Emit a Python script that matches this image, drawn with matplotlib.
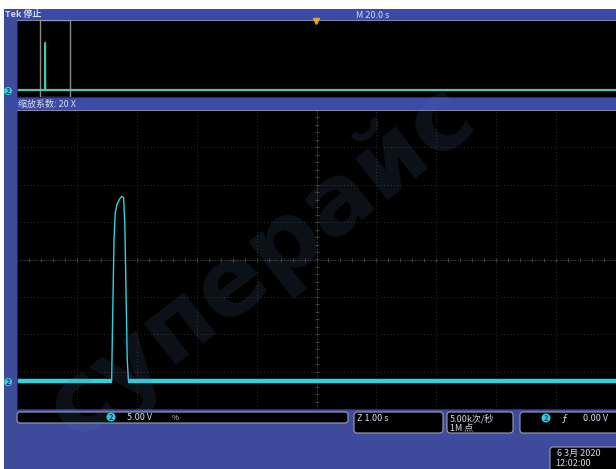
import numpy as np
import matplotlib
matplotlib.use('Agg')
import matplotlib.pyplot as plt
from matplotlib.patches import Rectangle, FancyBboxPatch, Circle

plt.rcParams['font.family'] = ['Noto Sans CJK SC', 'DejaVu Sans']

# ---- data ----
sec_per_div = 1.0          # zoom timebase (Z 1.00 s)
main_sec_per_div = 20.0    # main timebase (M 20.0 s)
volt_per_div = 5.0         # CH2 5.00 V/div
ch2_position = -3.25       # divisions
zoom_center = -87.3        # s, centre of zoom window in main record
zoom_factor = 20

t_pulse = [-5.0, -3.42, -3.40, -3.38, -3.36, -3.33, -3.29, -3.25, -3.22, -3.20, -3.18, -3.16, -3.14, 5.0]
v_pulse = [0.0, 0.0, 10.0, 19.0, 22.5, 23.6, 24.3, 24.7, 24.5, 21.0, 12.0, 3.0, 0.0, 0.0]

header_left = 'Tek 停止'
header_mid = 'M 20.0 s'
zoom_label = '缩放系数: 20 X'
ch_scale = '5.00 V'
zoom_base = 'Z 1.00 s'
rate_lines = ['5.00k次/秒', '1M 点']
trig_level = '0.00 V'
date_lines = ['6 3月 2020', '12:02:00']

W, H = 616, 469
BLUE = '#3e4a9c'
BAR = '#3a4aa6'
TXT = '#d6d8ea'
CYAN = '#2fd2dc'
GRID = '#3c3c3c'

fig = plt.figure(figsize=(W / 100, H / 100), dpi=100)
fig.patch.set_facecolor('white')


def box(x0, y0, x1, y1):
    return [x0 / W, 1 - y1 / H, (x1 - x0) / W, (y1 - y0) / H]


# background frame
bg = fig.add_axes([0, 0, 1, 1], zorder=0)
bg.set_xlim(0, W)
bg.set_ylim(H, 0)
bg.axis('off')
bg.add_patch(Rectangle((4, 9), W - 4, H - 9, facecolor=BLUE, edgecolor='none'))
bg.add_patch(Rectangle((4, 9), W - 4, 11, facecolor=BAR, edgecolor='none'))
bg.add_patch(Rectangle((4, 97), W - 4, 13, facecolor=BAR, edgecolor='none'))

t = np.array(t_pulse)
v = np.array(v_pulse)
div = v / volt_per_div + ch2_position
flat = v == 0


def scope_axes(ax):
    ax.set_facecolor('black')
    for s in ax.spines.values():
        s.set_color('#2a2a3a')
        s.set_linewidth(0.6)
    ax.spines['top'].set_color('#9aa0c0')
    ax.set_xticks([])
    ax.set_yticks([])


# overview window
ov = fig.add_axes(box(17, 20, W, 97), zorder=1)
scope_axes(ov)
ov.set_xlim(-5 * main_sec_per_div, 5 * main_sec_per_div)
ov.set_ylim(-4, 4)
ov.plot(t + zoom_center, div, color='#48c8b4', lw=1.0)
ov.axhline(ch2_position, color='#48c8b4', lw=1.6)
zw = 10 * sec_per_div
ov.add_patch(Rectangle((zoom_center - zw / 2, -4), zw, 8, facecolor='none',
                       edgecolor='#8a8a8a', lw=1.0))

# zoom window
mn = fig.add_axes(box(17, 110, W, 409), zorder=1)
scope_axes(mn)
mn.set_xlim(-5 * sec_per_div, 5 * sec_per_div)
mn.set_ylim(-4, 4)
for gx in range(-4, 5):
    mn.axvline(gx * sec_per_div, color=GRID, lw=0.6, ls=(0, (1, 3)))
for gy in range(-3, 4):
    mn.axhline(gy, color=GRID, lw=0.6, ls=(0, (1, 3)))
mn.axvline(0, color='#4a4a4a', lw=0.6, ls=(0, (1, 2)))
mn.axhline(0, color='#4a4a4a', lw=0.6, ls=(0, (1, 2)))
ticks_x = np.arange(-5, 5.01, 0.2) * sec_per_div
ticks_y = np.arange(-4, 4.01, 0.2)
mn.plot(ticks_x, np.zeros_like(ticks_x), '|', color='#4a4a4a', ms=3, mew=0.6)
mn.plot(np.zeros_like(ticks_y), ticks_y, '_', color='#4a4a4a', ms=3, mew=0.6)
mn.plot(t, div, color=CYAN, lw=1.0)
mn.plot(t[flat][:2], div[flat][:2], color=CYAN, lw=3.2, solid_capstyle='butt')
mn.plot(t[flat][2:], div[flat][2:], color=CYAN, lw=3.2, solid_capstyle='butt')

# overlay: labels, readouts, watermark
ol = fig.add_axes([0, 0, 1, 1], zorder=3)
ol.set_xlim(0, W)
ol.set_ylim(H, 0)
ol.axis('off')
ol.patch.set_alpha(0)

fs = 6.5
ol.text(5, 15, header_left, color=TXT, fontsize=fs, va='center', weight='bold')
ol.text(356, 15, header_mid, color=TXT, fontsize=fs, va='center')
ol.text(18, 104, zoom_label, color=TXT, fontsize=fs, va='center')
ol.plot([316], [21], marker='v', color='#e8a030', ms=4)


def ch_marker(x, y, r=4.5):
    ol.add_patch(Circle((x, y), r, facecolor=CYAN, edgecolor='none'))
    ol.text(x, y + 0.3, '2', color='#1a3a80', fontsize=5.5, ha='center', va='center', weight='bold')


ch_marker(8, 91, 4)
ch_marker(8, 382, 4)


# readout boxes
def readout(x0, y0, x1, y1):
    ol.add_patch(FancyBboxPatch((x0, y0), x1 - x0, y1 - y0, boxstyle='round,pad=0,rounding_size=3',
                                facecolor='black', edgecolor='#9a9fb8', lw=0.8))


readout(17, 412, 348, 423)
readout(354, 412, 443, 433)
readout(447, 412, 513, 433)
readout(520, 412, W + 4, 433)
readout(550, 447, W + 4, 472)

ch_marker(111, 417)
ol.text(127, 417.5, ch_scale, color=TXT, fontsize=fs, va='center')
ol.text(172, 417.5, '%', color=TXT, fontsize=fs - 1, va='center')
ol.text(357, 418.5, zoom_base, color=TXT, fontsize=fs, va='center')
ol.text(450, 418.5, rate_lines[0], color=TXT, fontsize=fs, va='center')
ol.text(450, 428, rate_lines[1], color=TXT, fontsize=fs, va='center')
ch_marker(546, 418)
ol.text(562, 418.5, 'ƒ', color=TXT, fontsize=fs + 1, va='center')
ol.text(583, 418.5, trig_level, color=TXT, fontsize=fs, va='center')
ol.text(557, 453, date_lines[0], color=TXT, fontsize=fs, va='center')
ol.text(555, 463, date_lines[1], color=TXT, fontsize=fs, va='center')

# watermark
ol.text(262, 262, 'суперайс', color='#5a78a8', alpha=0.14, fontsize=70, weight='bold',
        rotation=38, ha='center', va='center', family='DejaVu Sans')

fig.savefig('out.png', dpi=100, facecolor=fig.get_facecolor())
